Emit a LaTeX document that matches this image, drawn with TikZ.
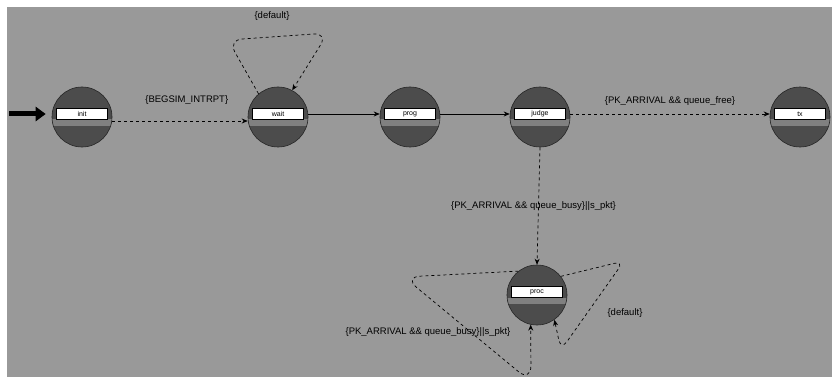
\documentclass[tikz,border=0pt]{standalone}
\usepackage{fontspec}
\setmainfont{Liberation Sans}
\usetikzlibrary{arrows.meta,calc}
\definecolor{bg}{gray}{0.60}
\definecolor{nodefill}{gray}{0.30}
\definecolor{bandfill}{gray}{0.50}
\begin{document}
\begin{tikzpicture}[x=1pt,y=-1pt,
  state/.style={circle, minimum size=60pt, inner sep=0pt, fill=nodefill, draw=black!85, line width=0.6pt,
    path picture={\fill[bandfill] ($(path picture bounding box.center)+(-31pt,-9pt)$) rectangle ($(path picture bounding box.center)+(31pt,-2.5pt)$);}},
  slabel/.style={rectangle, minimum width=51pt, minimum height=11pt, inner sep=0pt, fill=white, draw=black, line width=0.5pt, font=\fontsize{7}{8}\selectfont},
  dedge/.style={draw=black, dashed, line width=0.7pt, -{Stealth[length=6pt,width=5pt]}},
  sedge/.style={draw=black, line width=0.7pt, -{Stealth[length=6pt,width=5pt]}},
  elabel/.style={font=\fontsize{9.5}{11}\selectfont, inner sep=1pt, text=black}]
\useasboundingbox (0,0) rectangle (832,377);
\fill[white] (0,0) rectangle (832,377);
\fill[bg] (7,7) rectangle (832,377);

% states
\node[state] (init)  at (82,117)  {};
\node[state] (wait)  at (278,117) {};
\node[state] (prog)  at (410,117) {};
\node[state] (judge) at (540,117) {};
\node[state] (tx)    at (800,117) {};
\node[state] (proc)  at (537,295) {};

\node[slabel] (initL)  at ([yshift=3pt]init.center)  {init};
\node[slabel] (waitL)  at ([yshift=3pt]wait.center)  {wait};
\node[slabel] (progL)  at ([yshift=3pt]prog.center)  {prog};
\node[slabel] (judgeL) at ([yshift=3pt]judge.center) {judge};
\node[slabel] (txL)    at ([yshift=3pt]tx.center)    {tx};
\node[slabel] (procL)  at ([yshift=3pt]proc.center)  {proc};

% entry arrow
\coordinate (entry) at (9,114);
\draw[line width=5pt, -{Triangle[length=10pt,width=14pt]}] (entry) -- ([xshift=-6pt,yshift=3pt]init.west);

% transitions
\draw[dedge] ([yshift=-4pt]init.east) -- ([yshift=-4pt]wait.west)
  node[elabel, pos=0.55, yshift=21pt] (l1) {\{BEGSIM\_INTRPT\}};

\draw[dedge, rounded corners=14pt] (wait.130) -- (228,40) -- (328,33) -- (wait.62);
\node[elabel] (l2) at (272,16) {\{default\}};

\draw[sedge] ([yshift=3pt]wait.east) -- ([yshift=3pt]prog.west);
\draw[sedge] ([yshift=3pt]prog.east) -- ([yshift=3pt]judge.west);

\draw[dedge] ([yshift=3pt]judge.east) -- ([yshift=3pt]tx.west)
  node[elabel, midway, yshift=13pt] (l3) {\{PK\_ARRIVAL \&\& queue\_free\}};

\draw[dedge] (judge.south) -- (proc.north)
  node[elabel, midway, xshift=-5pt] (l4) {\{PK\_ARRIVAL \&\& queue\_busy\}||s\_pkt\}};

\draw[dedge, rounded corners=16pt] (proc.128) -- (404,277) -- (531,382) -- (proc.258);
\node[elabel] (l5) at (428,332) {\{PK\_ARRIVAL \&\& queue\_busy\}||s\_pkt\}};

\draw[dedge, rounded corners=10pt] (proc.38) -- (624,261) -- (561,350) -- (proc.305);
\node[elabel] (l6) at (625,313) {\{default\}};
\end{tikzpicture}
\end{document}
